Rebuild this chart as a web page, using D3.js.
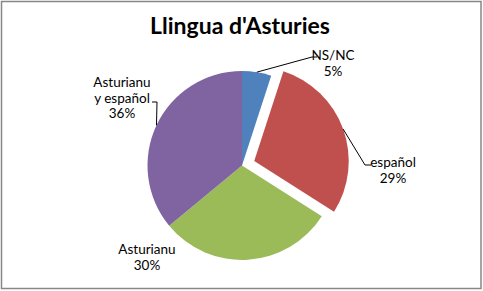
<!DOCTYPE html>
<html lang="en">
<head>
  <meta charset="UTF-8">
  <script src="https://d3js.org/d3.v7.min.js"></script>
  <style>
    body { margin: 0; background: #fff; }
    text { font-family: Lato, "Noto Sans", sans-serif; fill: #000; }
  </style>
</head>
<body>
<div id="chart"></div>
<script>
  // data
  var categories = ["NS/NC", "español", "Asturianu", "Asturianu y español"];
  var values = [5, 29, 30, 36];
  var labelLines = [["NS/NC"], ["español"], ["Asturianu"], ["Asturianu", "y español"]];
  var colors = ["#4F81BD", "#C0504D", "#9BBB59", "#8064A2"];
  var exploded = [0, 13, 0, 0];

  var width = 483, height = 291;
  var cx = 242, cy = 165.5, radius = 94.5;

  // label anchor (text centre) and elbow end of leader, in chart coords
  var labelPos = [
    { x: 333, y: 55, elbow: [312, 57, 317, 57] },
    { x: 393, y: 162, elbow: [365, 165, 371, 165] },
    { x: 147, y: 249, elbow: null },
    { x: 122, y: 82, elbow: [157, 102, 152, 102] }
  ];

  var svg = d3.select("#chart").append("svg")
    .attr("width", width)
    .attr("height", height);

  // outer border
  svg.append("rect")
    .attr("x", 1.5).attr("y", 1.5)
    .attr("width", width - 3.5).attr("height", height - 4)
    .attr("fill", "#fff")
    .attr("stroke", "#878787")
    .attr("stroke-width", 1.5);

  svg.append("text")
    .attr("x", 240).attr("y", 34)
    .attr("text-anchor", "middle")
    .style("font-size", "23px")
    .style("font-weight", "bold")
    .text("Llingua d'Asturies");

  var pie = d3.pie().sort(null).startAngle(0).endAngle(2 * Math.PI);
  var arcs = pie(values);
  var arc = d3.arc().innerRadius(0).outerRadius(radius);

  var g = svg.append("g").attr("transform", "translate(" + cx + "," + cy + ")");

  function offset(d, i) {
    var a = (d.startAngle + d.endAngle) / 2;
    return [exploded[i] * Math.sin(a), -exploded[i] * Math.cos(a)];
  }

  g.selectAll("path.slice")
    .data(arcs)
    .enter()
    .append("path")
      .attr("class", "slice")
      .attr("d", arc)
      .attr("fill", function(d, i) { return colors[i]; })
      .attr("transform", function(d, i) {
        var o = offset(d, i);
        return "translate(" + o[0] + "," + o[1] + ")";
      });

  // leader lines
  arcs.forEach(function(d, i) {
    var lp = labelPos[i];
    if (!lp.elbow) return;
    var a = (d.startAngle + d.endAngle) / 2;
    var o = offset(d, i);
    var sx = cx + o[0] + radius * Math.sin(a);
    var sy = cy + o[1] - radius * Math.cos(a);
    svg.append("polyline")
      .attr("points", [sx, sy, lp.elbow[0], lp.elbow[1], lp.elbow[2], lp.elbow[3]].join(","))
      .attr("fill", "none")
      .attr("stroke", "#000")
      .attr("stroke-width", 1);
  });

  // labels
  arcs.forEach(function(d, i) {
    var lp = labelPos[i];
    var lines = labelLines[i].concat([values[i] + "%"]);
    var t = svg.append("text")
      .attr("text-anchor", "middle")
      .style("font-size", "13.5px");
    lines.forEach(function(l, k) {
      t.append("tspan")
        .attr("x", lp.x)
        .attr("y", lp.y + 5 + k * 15.5)
        .text(l);
    });
  });
</script>
</body>
</html>
